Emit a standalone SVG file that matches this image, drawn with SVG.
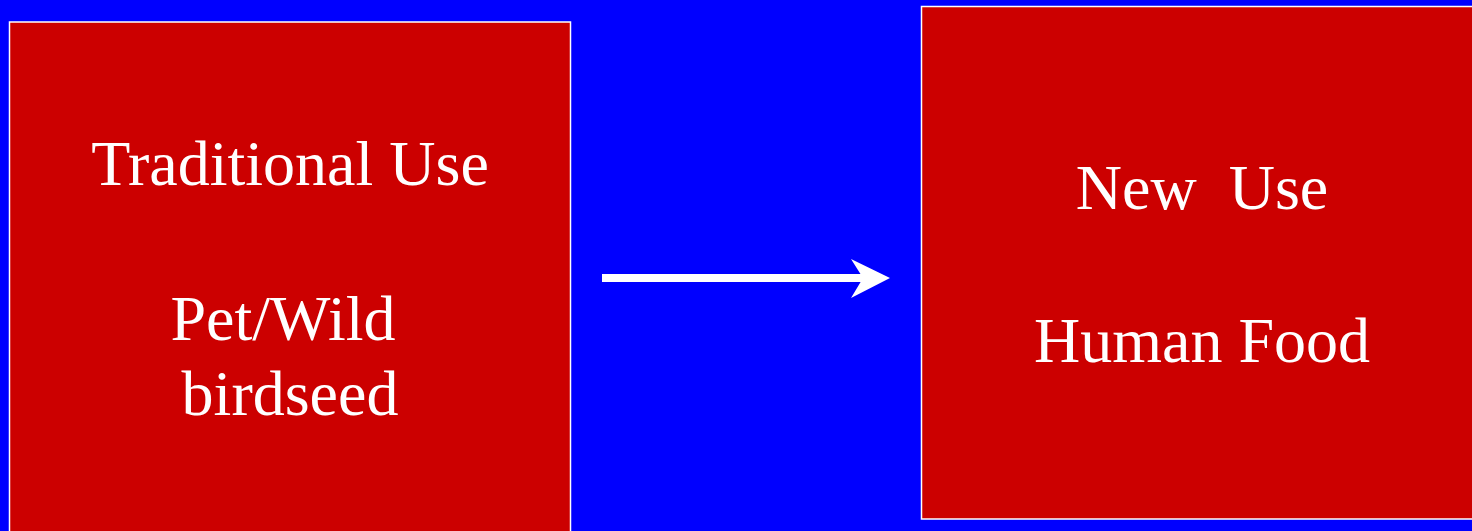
<svg xmlns="http://www.w3.org/2000/svg" width="1472" height="531" viewBox="0 0 1472 531">
<style>
.box{fill:#cc0000;stroke:#ffffff;stroke-width:1.5}
.t{font-family:"Liberation Serif","Times New Roman",serif;font-size:64px;fill:#ffffff;text-anchor:middle;white-space:pre}
.conn{stroke:#ffffff;stroke-width:8;fill:none}
</style>
<defs>
<marker id="ah" markerUnits="userSpaceOnUse" markerWidth="40" markerHeight="40" refX="27" refY="20" orient="auto" viewBox="0 0 40 40">
<path d="M-12,1 L27,20 L-12,39 L0,20 Z" fill="#ffffff"/>
</marker>
</defs>
<rect x="0" y="0" width="1472" height="531" fill="#0000ff"/>
<g id="node-traditional">
<rect class="box" x="9.5" y="22" width="561" height="520"/>
<text class="t" x="290" y="185">Traditional Use</text>
<text class="t" x="283" y="340">Pet/Wild</text>
<text class="t" x="290" y="415">birdseed</text>
</g>
<g id="node-new">
<rect class="box" x="921.5" y="6.5" width="560" height="512.5"/>
<text class="t" x="1202" y="209" xml:space="preserve">New  Use</text>
<text class="t" x="1202" y="362">Human Food</text>
</g>
<g id="connectors">
<path d="M602,278 L863,278" class="conn"/>
<path d="M851,259 L890,278 L851,298 L863,278 Z" fill="#ffffff"/>
</g>
</svg>
